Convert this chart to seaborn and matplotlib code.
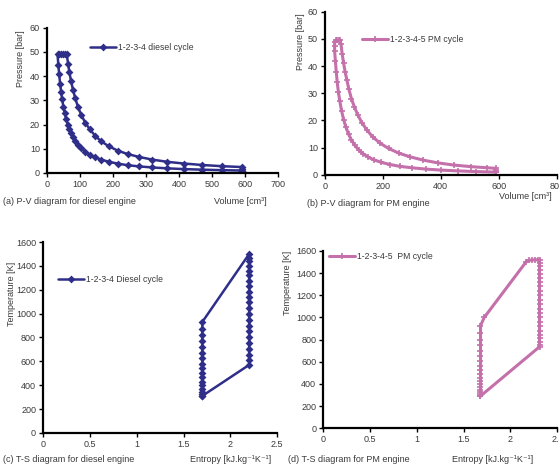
import matplotlib
matplotlib.use("Agg")
import matplotlib.pyplot as plt
import pandas as pd
import seaborn as sns

sns.set_theme(style="white")
plt.rcParams["font.family"] = ["Liberation Sans", "DejaVu Sans"]

DIESEL = "#2f2f8a"
PM = "#c470aa"
TXT = "#3a3a3a"

# (a) diesel P-V: compression 1-2, constant pressure 2-3, expansion 3-4, back to 1
diesel_v = [590, 530, 470, 415, 365, 320, 280, 245, 215, 188, 165, 146, 130, 116, 104,
            94, 86, 79, 73, 68, 63, 58, 54, 50, 46, 43, 40, 37, 34.5, 32,
            38, 44, 50, 56, 60,
            64, 68, 73, 79, 86, 94, 104, 116, 130, 146, 165, 188, 215, 245, 280,
            320, 365, 415, 470, 530, 590, 590, 590]
diesel_p = [1.0, 1.15, 1.36, 1.6, 1.9, 2.27, 2.7, 3.2, 3.85, 4.6, 5.5, 6.4, 7.5, 8.8, 10.2,
            11.6, 13.0, 14.7, 16.4, 18.1, 19.9, 22.3, 24.6, 27.2, 30.5, 33.4, 36.8, 40.8, 44.7, 49.0,
            49.0, 49.0, 49.0, 49.0, 49.0,
            45.2, 41.6, 38.0, 34.3, 30.8, 27.3, 24.0, 20.8, 18.0, 15.4, 13.0, 11.0, 9.2, 7.8, 6.6,
            5.5, 4.6, 3.9, 3.3, 2.8, 2.45, 1.7, 1.0]

# (b) PM P-V
pm_v = [590, 520, 460, 400, 350, 300, 260, 225, 195, 170, 150, 132, 117, 104, 92,
        82, 73, 65, 58, 52, 47, 43, 39.5, 36.5, 34, 34, 34,
        38, 43, 48, 53,
        56, 60, 65, 70, 76, 83, 92, 102, 114, 128, 145, 165, 190, 220, 255,
        295, 340, 390, 445, 505, 560, 590, 590, 590]
pm_p = [1.0, 1.2, 1.45, 1.75, 2.1, 2.6, 3.1, 3.8, 4.6, 5.5, 6.5, 7.8, 9.2, 10.8, 12.8,
        15.0, 17.5, 20.3, 23.5, 27.0, 30.5, 34.0, 38.0, 42.0, 45.5, 47.5, 49.0,
        49.5, 49.5, 49.5, 49.5,
        48.0, 44.5, 41.0, 38.0, 35.0, 31.5, 28.0, 25.0, 22.0, 19.2, 16.5, 14.0, 11.7, 9.7, 8.0,
        6.6, 5.4, 4.4, 3.6, 3.0, 2.6, 2.4, 1.8, 1.0]

# (c) diesel T-S
diesel_s = [1.70] * 17 + [2.20] * 22 + [1.70]
diesel_t = [310, 325, 345, 370, 400, 430, 465, 500, 540, 580, 625, 670, 720, 770, 820, 875, 930,
            1500, 1470, 1440, 1400, 1360, 1320, 1275, 1230, 1185, 1140, 1095, 1050, 1000, 950,
            900, 850, 800, 750, 700, 650, 610, 570,
            310]

# (d) PM T-S
pm_s = ([1.68] * 18 + [1.72, 2.17, 2.20, 2.23, 2.26, 2.29, 2.31] + [2.31] * 22 + [1.68])
pm_t = ([290, 305, 325, 345, 370, 395, 425, 455, 490, 525, 565, 605, 650, 700, 750, 800, 860, 925,
         1000, 1505, 1515, 1518, 1520, 1520, 1520,
         1490, 1460, 1430, 1395, 1360, 1320, 1280, 1240, 1200, 1160, 1120, 1080, 1040, 1000,
         960, 920, 880, 845, 810, 780, 755, 735,
         290])

ENTROPY = "Entropy [kJ.kg\u207b\u00b9K\u207b\u00b9]"
VOLUME = "Volume [cm\u00b3]"

panels = [
    dict(rect=[0.084, 0.632, 0.413, 0.309], x=diesel_v, y=diesel_p, color=DIESEL, marker="D",
         ms=2.8, lw=1.8, label="1-2-3-4 diesel cycle", xlim=(0, 700), xticks=range(0, 701, 100),
         ylim=(0, 60), yticks=range(0, 61, 10), xtl=None,
         leg=(0.155, 0.915), ylab=("Pressure [bar]", 0.036, 0.935),
         cap=("(a) P-V diagram for diesel engine", 0.006, 0.571),
         xlab=(VOLUME, 0.382, 0.571)),
    dict(rect=[0.581, 0.628, 0.415, 0.347], x=pm_v, y=pm_p, color=PM, marker="+",
         ms=4, lw=2.2, label="1-2-3-4-5 PM cycle", xlim=(0, 800), xticks=range(0, 801, 200),
         ylim=(0, 60), yticks=range(0, 61, 10), xtl=None,
         leg=(0.642, 0.932), ylab=("Pressure [bar]", 0.537, 0.972),
         cap=("(b) P-V diagram for PM engine", 0.549, 0.568),
         xlab=(VOLUME, 0.893, 0.581)),
    dict(rect=[0.077, 0.079, 0.419, 0.406], x=diesel_s, y=diesel_t, color=DIESEL, marker="D",
         ms=2.8, lw=1.8, label="1-2-3-4 Diesel cycle", xlim=(0, 2.5), xticks=[0, 0.5, 1, 1.5, 2, 2.5],
         ylim=(0, 1600), yticks=range(0, 1601, 200), xtl=["0", "0.5", "1", "1.5", "2", "2.5"],
         leg=(0.098, 0.423), ylab=("Temperature [K]", 0.02, 0.443),
         cap=("(c) T-S diagram for diesel engine", 0.006, 0.022),
         xlab=(ENTROPY, 0.34, 0.022)),
    dict(rect=[0.578, 0.089, 0.419, 0.377], x=pm_s, y=pm_t, color=PM, marker="+",
         ms=4, lw=2.2, label="1-2-3-4-5  PM cycle", xlim=(0, 2.5), xticks=[0, 0.5, 1, 1.5, 2, 2.5],
         ylim=(0, 1600), yticks=range(0, 1601, 200), xtl=["0", "0.5", "1", "1.5", "2", "2.5"],
         leg=(0.583, 0.472), ylab=("Temperature [K]", 0.514, 0.466),
         cap=("(d) T-S diagram for PM engine", 0.516, 0.022),
         xlab=(ENTROPY, 0.808, 0.022)),
]

fig = plt.figure(figsize=(5.59, 4.70), dpi=100)

for p in panels:
    ax = fig.add_axes(p["rect"])
    df = pd.DataFrame({"x": p["x"], "y": p["y"]})
    sns.lineplot(data=df, x="x", y="y", sort=False, estimator=None, ax=ax,
                 color=p["color"], lw=p["lw"], marker=p["marker"], markersize=p["ms"],
                 markeredgewidth=1.2, markeredgecolor=p["color"], label=p["label"])
    ax.set_xlim(*p["xlim"])
    ax.set_ylim(*p["ylim"])
    ax.set_xticks(list(p["xticks"]))
    ax.set_yticks(list(p["yticks"]))
    if p["xtl"]:
        ax.set_xticklabels(p["xtl"])
    ax.set_xlabel("")
    ax.set_ylabel("")
    for side in ["top", "right"]:
        ax.spines[side].set_visible(False)
    for side in ["left", "bottom"]:
        ax.spines[side].set_color("black")
        ax.spines[side].set_linewidth(1.6)
    ax.tick_params(axis="both", which="major", length=3, width=1, color="black",
                   labelsize=6.5, labelcolor=TXT, pad=2, direction="out",
                   left=True, bottom=True)
    ax.grid(False)
    ax.legend(loc="upper left", bbox_to_anchor=p["leg"], bbox_transform=fig.transFigure,
              frameon=False, fontsize=6.2, handlelength=3, handletextpad=0.2,
              borderaxespad=0, labelcolor=TXT)
    fig.text(p["ylab"][1], p["ylab"][2], p["ylab"][0], rotation=90, ha="center", va="top",
             fontsize=6.5, color=TXT)
    fig.text(p["cap"][1], p["cap"][2], p["cap"][0], ha="left", va="center",
             fontsize=6.5, color=TXT)
    fig.text(p["xlab"][1], p["xlab"][2], p["xlab"][0], ha="left", va="center",
             fontsize=6.5, color=TXT)

fig.savefig("out.png", dpi=100, facecolor="white")
